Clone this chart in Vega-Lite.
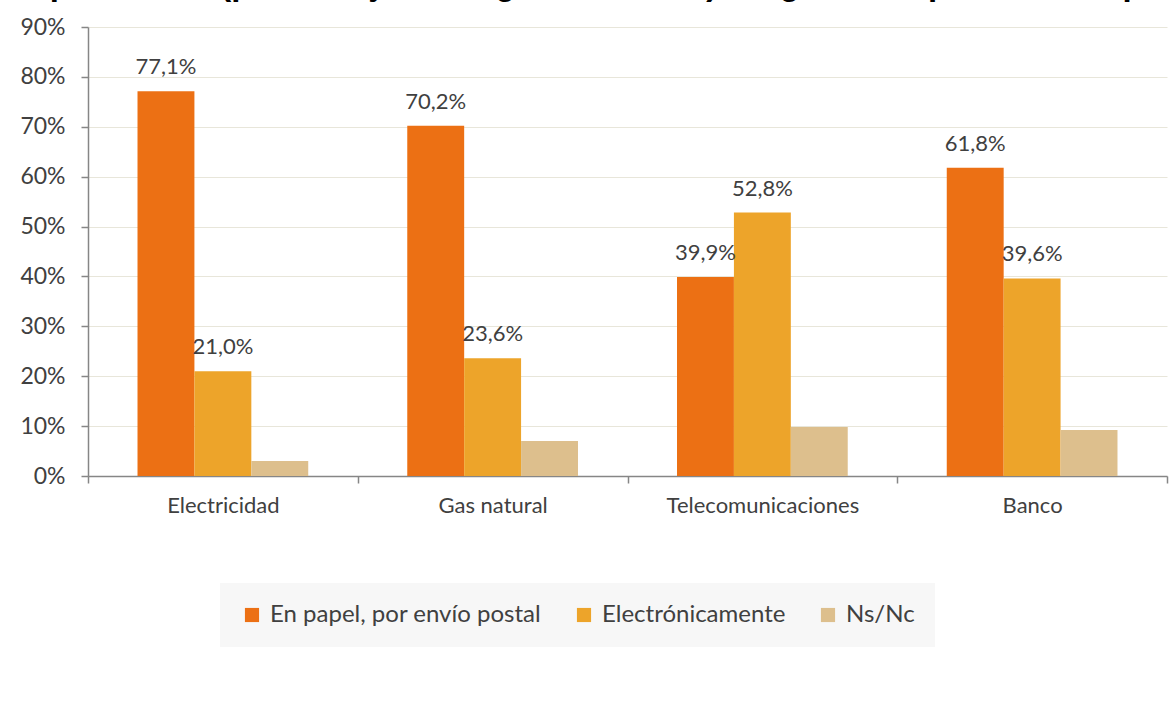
{
  "$schema": "https://vega.github.io/schema/vega-lite/v6.json",
  "width": 1079,
  "height": 449,
  "autosize": {"type": "none"},
  "padding": {"left": 88, "top": 27, "right": 5, "bottom": 250},
  "background": "white",
  "title": {
    "text": "su proveedor (porcentaje de hogares; II-2016) Pregunta respuesta múltiple",
    "anchor": "start",
    "frame": "group",
    "orient": "top",
    "font": "Liberation Sans",
    "fontSize": 33,
    "fontWeight": "bold",
    "color": "#000000",
    "baseline": "alphabetic",
    "offset": 0,
    "dx": -86,
    "dy": 12
  },
  "config": {
    "locale": {"number": {"decimal": ",", "thousands": ".", "grouping": [3], "currency": ["", " €"]}},
    "font": "Lato",
    "view": {"stroke": null}
  },
  "data": {
    "values": [
      {"categoria": "Electricidad", "serie": "En papel, por envío postal", "valor": 0.771},
      {"categoria": "Electricidad", "serie": "Electrónicamente", "valor": 0.210},
      {"categoria": "Electricidad", "serie": "Ns/Nc", "valor": 0.030},
      {"categoria": "Gas natural", "serie": "En papel, por envío postal", "valor": 0.702},
      {"categoria": "Gas natural", "serie": "Electrónicamente", "valor": 0.236},
      {"categoria": "Gas natural", "serie": "Ns/Nc", "valor": 0.070},
      {"categoria": "Telecomunicaciones", "serie": "En papel, por envío postal", "valor": 0.399},
      {"categoria": "Telecomunicaciones", "serie": "Electrónicamente", "valor": 0.528},
      {"categoria": "Telecomunicaciones", "serie": "Ns/Nc", "valor": 0.098},
      {"categoria": "Banco", "serie": "En papel, por envío postal", "valor": 0.618},
      {"categoria": "Banco", "serie": "Electrónicamente", "valor": 0.396},
      {"categoria": "Banco", "serie": "Ns/Nc", "valor": 0.092}
    ]
  },
  "encoding": {
    "x": {
      "field": "categoria",
      "type": "nominal",
      "sort": ["Electricidad", "Gas natural", "Telecomunicaciones", "Banco"],
      "scale": {"paddingInner": 0, "paddingOuter": 0},
      "axis": {
        "title": null,
        "labelAngle": 0,
        "labelLimit": 0,
        "tickBand": "extent",
        "grid": false,
        "domainColor": "#868686",
        "domainWidth": 1.5,
        "tickColor": "#868686",
        "tickWidth": 1.5,
        "tickSize": 7,
        "labelFont": "Lato",
        "labelFontSize": 22,
        "labelColor": "#404040",
        "labelPadding": 12
      }
    },
    "xOffset": {
      "field": "serie",
      "type": "nominal",
      "sort": ["En papel, por envío postal", "Electrónicamente", "Ns/Nc"],
      "scale": {"paddingInner": 0, "paddingOuter": 0.87}
    },
    "y": {
      "field": "valor",
      "type": "quantitative",
      "scale": {"domain": [0, 0.9], "nice": false},
      "axis": {
        "title": null,
        "format": ".0%",
        "values": [0, 0.1, 0.2, 0.3, 0.4, 0.5, 0.6, 0.7, 0.8, 0.9],
        "gridColor": "#E8E6DA",
        "gridWidth": 1,
        "domainColor": "#868686",
        "domainWidth": 1.5,
        "tickColor": "#868686",
        "tickWidth": 1.5,
        "tickSize": 7,
        "labelFont": "Lato",
        "labelFontSize": 23,
        "labelColor": "#404040",
        "labelPadding": 16
      }
    }
  },
  "layer": [
    {
      "mark": {"type": "bar"},
      "encoding": {
        "color": {
          "field": "serie",
          "type": "nominal",
          "sort": ["En papel, por envío postal", "Electrónicamente", "Ns/Nc"],
          "scale": {"domain": ["En papel, por envío postal", "Electrónicamente", "Ns/Nc"], "range": ["#EC7014", "#EDA42A", "#DDBF8D"]},
          "legend": {
            "title": null,
            "orient": "none",
            "legendX": 132,
            "legendY": 556,
            "direction": "horizontal",
            "fillColor": "#F7F7F7",
            "padding": 20,
            "symbolType": "square",
            "symbolSize": 200,
            "symbolStrokeWidth": 0,
            "labelFont": "Lato",
            "labelFontSize": 24,
            "labelLimit": 0,
            "labelColor": "#404040",
            "labelOffset": 6,
            "columnPadding": 30
          }
        }
      }
    },
    {
      "transform": [{"filter": "datum.serie != 'Ns/Nc'"}],
      "mark": {"type": "text", "baseline": "alphabetic", "dy": -17, "font": "Lato", "fontSize": 22, "color": "#404040"},
      "encoding": {
        "text": {"field": "valor", "type": "quantitative", "format": ".1%"}
      }
    }
  ]
}
